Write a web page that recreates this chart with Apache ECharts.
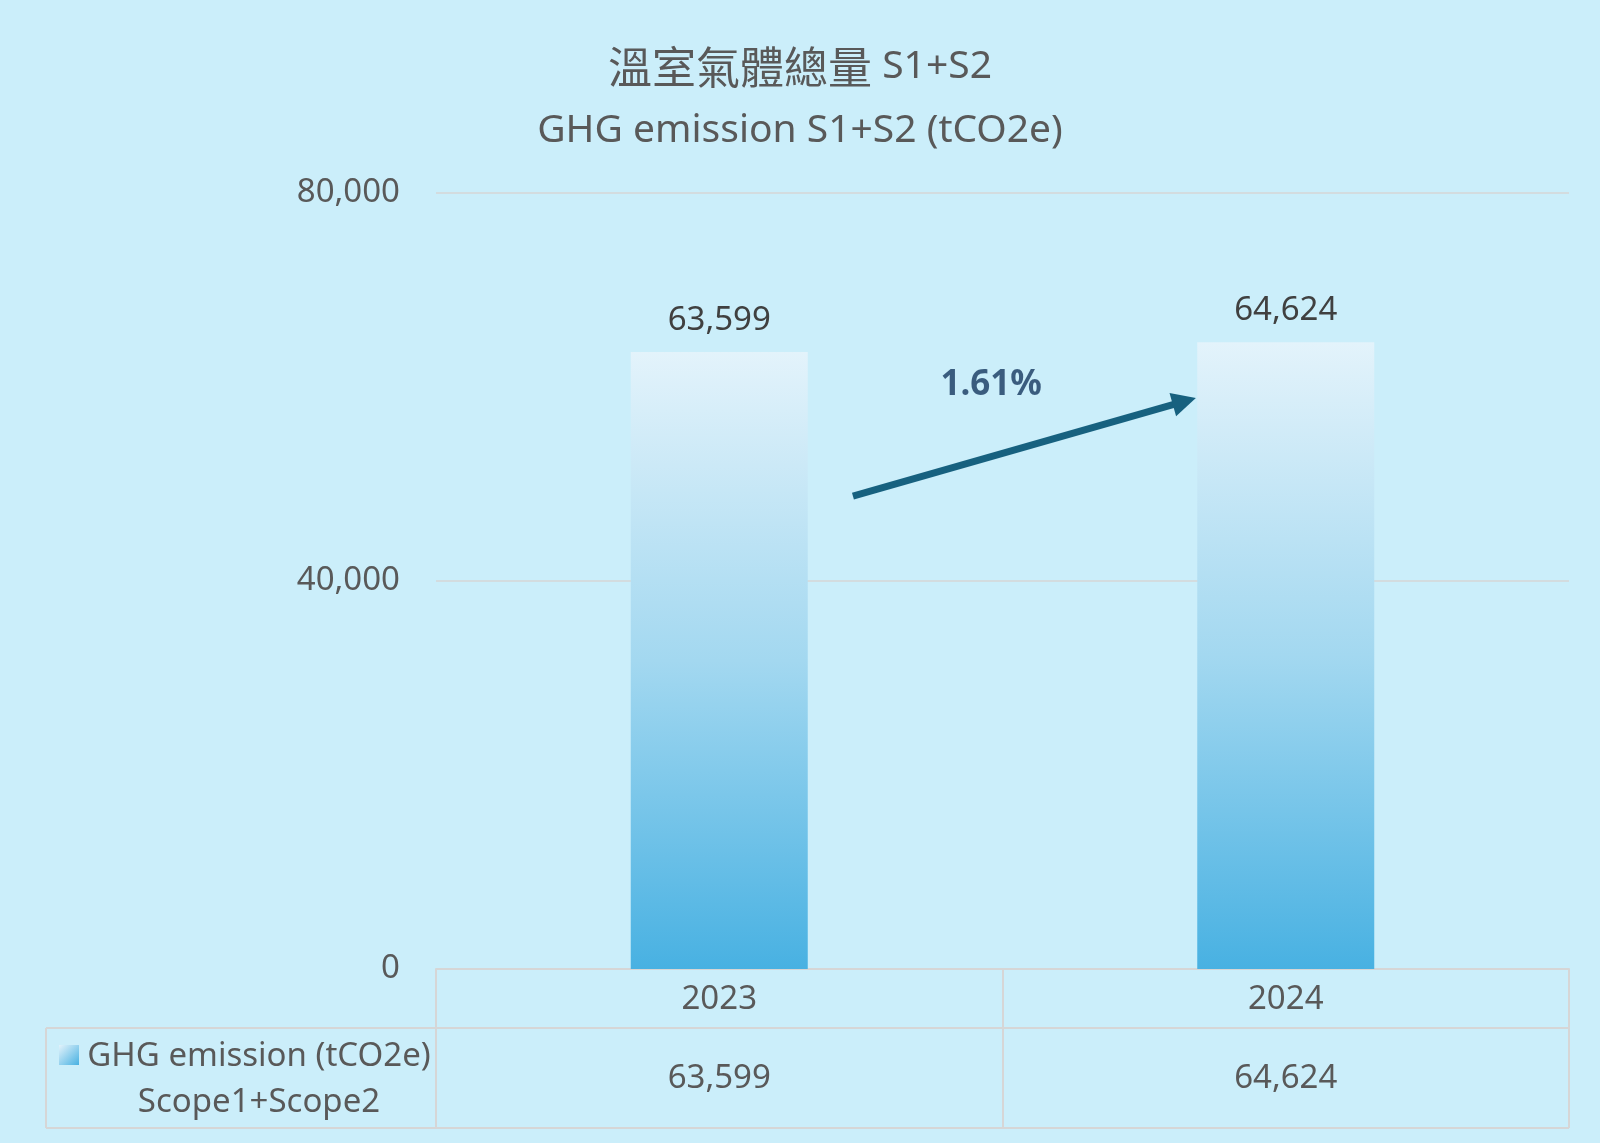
<!DOCTYPE html>
<html>
<head>
<meta charset="utf-8">
<title>GHG emission S1+S2</title>
<script src="https://cdn.jsdelivr.net/npm/echarts@6/dist/echarts.min.js"></script>
<style>
  html, body { margin: 0; padding: 0; background: #cbeefa; }
  #main { width: 1600px; height: 1143px; }
</style>
</head>
<body>
<div id="main"></div>
<script>
// 資料
const years = ['2023', '2024']
const emissions = [63599, 64624]
const yTicks = [0, 40000, 80000]
const seriesName = 'GHG emission (tCO2e)'
const seriesSub = 'Scope1+Scope2'

const fmt = v => v.toLocaleString('en-US')
const growth = ((emissions[1] - emissions[0]) / emissions[0] * 100).toFixed(2) + '%'

const FONT = '"Noto Sans", "Noto Sans CJK TC", sans-serif'
const GRID_LINE = '#d6d6d6'

const myChart = echarts.init(document.getElementById('main'))

const barGradient = new echarts.graphic.LinearGradient(0, 0, 0, 1, [
  {offset: 0, color: '#e3f3fb'},
  {offset: 0.5, color: '#a3d8f0'},
  {offset: 1, color: '#48b1e2'}
])

let option = {
  backgroundColor: '#cbeefa',
  title: {
    text: '{c|溫室氣體總量}{l| S1+S2}\n{l|GHG emission S1+S2 (tCO2e)}',
    left: 'center',
    top: 30,
    textStyle: {
      fontFamily: FONT,
      fontWeight: 'normal',
      color: '#595959',
      rich: {
        c: {fontFamily: '"Noto Sans CJK TC", sans-serif', fontWeight: 'normal', fontSize: 44, lineHeight: 64, color: '#595959'},
        l: {fontFamily: FONT, fontWeight: 'normal', fontSize: 39, lineHeight: 64, color: '#595959'}
      }
    }
  },
  grid: {
    left: 436,
    right: 31,
    top: 193,
    bottom: 174
  },
  xAxis: [
    {
      type: 'category',
      data: years,
      axisLine: {show: true, lineStyle: {color: GRID_LINE, width: 2}},
      axisTick: {show: true, length: 159, lineStyle: {color: GRID_LINE, width: 2}},
      axisLabel: {
        margin: 31,
        verticalAlign: 'middle',
        fontFamily: FONT,
        fontSize: 33,
        color: '#595959'
      }
    },
    {
      // 隱藏的數值軸，用來放箭頭與百分比
      type: 'value',
      min: 0,
      max: 2,
      show: false
    }
  ],
  yAxis: {
    type: 'value',
    min: yTicks[0],
    max: yTicks[yTicks.length - 1],
    interval: 40000,
    axisLine: {show: false},
    axisTick: {show: false},
    axisLabel: {
      margin: 36,
      padding: [6, 0, 0, 0],
      fontFamily: FONT,
      fontSize: 33,
      color: '#595959',
      formatter: v => fmt(v)
    },
    splitLine: {
      lineStyle: {color: GRID_LINE, width: 1.5}
    }
  },
  series: [
    {
      name: seriesName,
      type: 'bar',
      data: emissions,
      barWidth: 177,
      itemStyle: {color: barGradient},
      label: {
        show: true,
        position: 'top',
        distance: 15,
        fontFamily: FONT,
        fontSize: 33,
        color: '#404040',
        formatter: p => fmt(p.value)
      }
    },
    {
      type: 'lines',
      coordinateSystem: 'cartesian2d',
      xAxisIndex: 1,
      symbol: ['none', 'triangle'],
      symbolSize: [24, 24],
      lineStyle: {color: '#17617f', width: 7, opacity: 1},
      data: [{coords: [[0.736, 48760], [1.321, 58526]]}],
      silent: true,
      z: 5
    },
    {
      type: 'scatter',
      xAxisIndex: 1,
      symbolSize: 0,
      data: [[0.98, 60200]],
      label: {
        show: true,
        position: 'inside',
        formatter: growth,
        fontFamily: FONT,
        fontWeight: 'bold',
        fontSize: 35,
        color: '#15375f'
      },
      silent: true
    }
  ]
}

option && myChart.setOption(option)

// 下方資料表
const rowTop = myChart.convertToPixel({yAxisIndex: 0}, 0)
const row1Bottom = rowTop + 59
const row2Bottom = rowTop + 159
const rightX = 1569
const legendLeft = 46

const tableGraphics = [
  {type: 'line', shape: {x1: legendLeft, y1: row1Bottom, x2: rightX, y2: row1Bottom}, style: {stroke: GRID_LINE, lineWidth: 2}},
  {type: 'line', shape: {x1: legendLeft, y1: row2Bottom, x2: rightX, y2: row2Bottom}, style: {stroke: GRID_LINE, lineWidth: 2}},
  {type: 'line', shape: {x1: legendLeft, y1: row1Bottom, x2: legendLeft, y2: row2Bottom}, style: {stroke: GRID_LINE, lineWidth: 2}},
  {
    type: 'rect',
    shape: {x: 59, y: 1045, width: 20, height: 20},
    style: {fill: new echarts.graphic.LinearGradient(0, 0, 1, 1, [
      {offset: 0, color: '#e3f3fb'},
      {offset: 1, color: '#48b1e2'}
    ])}
  },
  {
    type: 'text',
    style: {
      x: 259, y: 1080,
      text: seriesName + '\n' + seriesSub,
      align: 'center',
      verticalAlign: 'middle',
      font: '33px ' + FONT,
      lineHeight: 46,
      fill: '#595959'
    }
  }
]
emissions.forEach((v, i) => {
  const x = myChart.convertToPixel({xAxisIndex: 0}, years[i])
  tableGraphics.push({
    type: 'text',
    style: {
      x: x, y: (row1Bottom + row2Bottom) / 2 + 1,
      text: fmt(v),
      align: 'center',
      verticalAlign: 'middle',
      font: '33px ' + FONT,
      fill: '#595959'
    }
  })
})
myChart.setOption({graphic: tableGraphics})
</script>
</body>
</html>
